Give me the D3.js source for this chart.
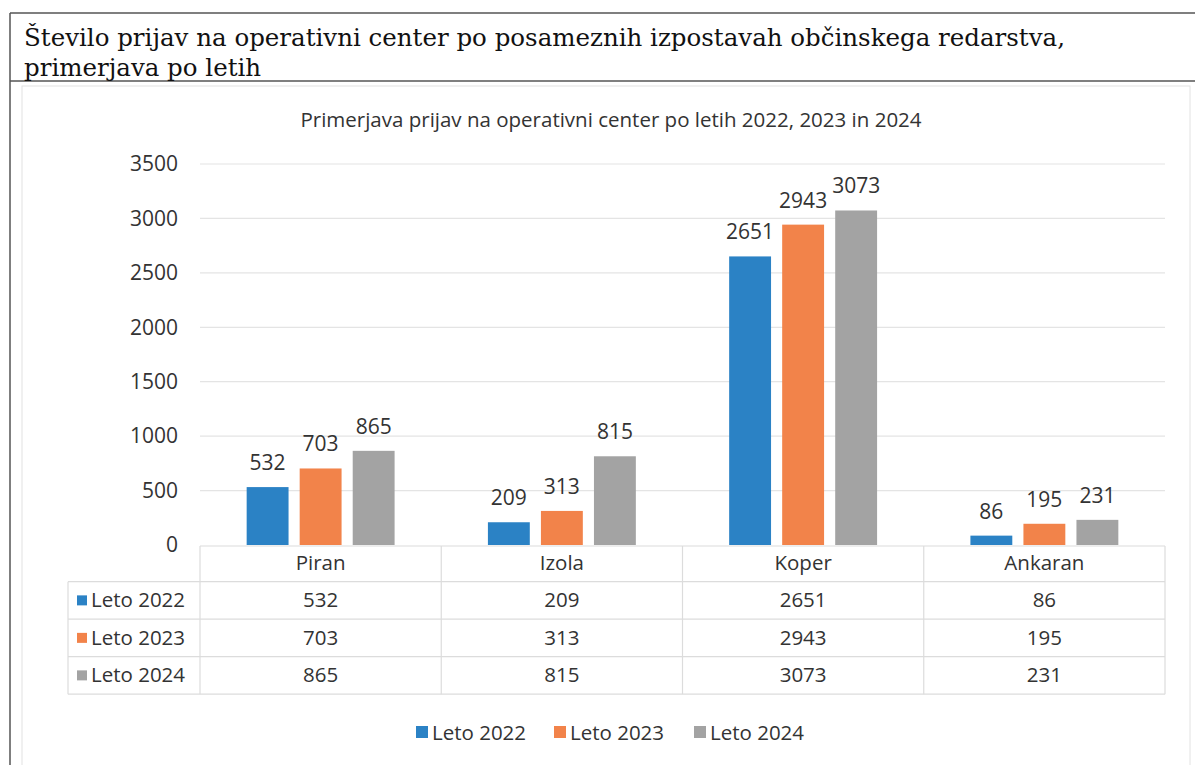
<!DOCTYPE html>
<html>
<head>
<meta charset="utf-8">
<script src="https://cdn.jsdelivr.net/npm/d3@7"></script>
<style>
  body { margin: 0; background: #fff; }
  text { font-family: "Open Sans", sans-serif; fill: #333; }
</style>
</head>
<body>
<svg id="chart" width="1195" height="765"></svg>
<script>
var categories = ["Piran", "Izola", "Koper", "Ankaran"];
var series = ["Leto 2022", "Leto 2023", "Leto 2024"];
var values2022 = [532, 209, 2651, 86];
var values2023 = [703, 313, 2943, 195];
var values2024 = [865, 815, 3073, 231];
var yTicks = [0, 500, 1000, 1500, 2000, 2500, 3000, 3500];
var colors = ["#2b82c5", "#f2834a", "#a3a3a3"];

var allValues = [values2022, values2023, values2024];
var svg = d3.select("#chart");

// outer page frame + heading
svg.append("line").attr("x1", 10).attr("x2", 1195).attr("y1", 13).attr("y2", 13)
    .attr("stroke", "#555").attr("stroke-width", 1.5);
svg.append("line").attr("x1", 10).attr("x2", 1195).attr("y1", 81).attr("y2", 81)
    .attr("stroke", "#555").attr("stroke-width", 1.5);
svg.append("line").attr("x1", 10).attr("x2", 10).attr("y1", 13).attr("y2", 765)
    .attr("stroke", "#555").attr("stroke-width", 1.5);

var heading = svg.append("text")
    .style("font-family", "'DejaVu Serif', serif")
    .style("font-size", "24.5px").style("fill", "#111");
heading.append("tspan").attr("x", 24).attr("y", 46)
    .text("Število prijav na operativni center po posameznih izpostavah občinskega redarstva,");
heading.append("tspan").attr("x", 24).attr("y", 76).text("primerjava po letih");

// chart area border
svg.append("rect").attr("x", 22).attr("y", 86).attr("width", 1168).attr("height", 690)
    .attr("fill", "none").attr("stroke", "#e2e2e2");

svg.append("text").attr("x", 611).attr("y", 127).attr("text-anchor", "middle")
    .style("font-size", "20.5px")
    .text("Primerjava prijav na operativni center po letih 2022, 2023 in 2024");

var left = 200, right = 1165;
var y = d3.scaleLinear().domain([0, 3500]).range([545, 164]);
var x0 = d3.scaleBand().domain(categories).range([left, right]);
var x1 = d3.scaleBand().domain(series).range([0, x0.bandwidth()])
    .paddingInner(0.21).paddingOuter(0.88);

// gridlines + y axis labels
var yAxis = d3.axisLeft(y).tickValues(yTicks).tickFormat(d3.format("d")).tickSize(0).tickPadding(22);
var gy = svg.append("g").attr("transform", "translate(" + left + ",0)").call(yAxis);
gy.select(".domain").remove();
gy.selectAll("text").style("font-size", "21px").style("font-family", "'Open Sans', sans-serif").attr("fill", "#333");

svg.append("g").selectAll("line").data(yTicks.filter(function (t) { return t > 0; }))
    .enter().append("line")
    .attr("x1", left).attr("x2", right)
    .attr("y1", function (d) { return y(d); }).attr("y2", function (d) { return y(d); })
    .attr("stroke", "#e4e4e4").attr("stroke-width", 1.2);

// bars
var groups = svg.append("g").selectAll("g").data(categories).enter().append("g")
    .attr("transform", function (d) { return "translate(" + x0(d) + ",0)"; });

groups.each(function (cat, ci) {
    var g = d3.select(this);
    series.forEach(function (s, si) {
        var v = allValues[si][ci];
        g.append("rect")
            .attr("x", x1(s)).attr("y", y(v))
            .attr("width", x1.bandwidth()).attr("height", y(0) - y(v))
            .attr("fill", colors[si]);
        g.append("text")
            .attr("x", x1(s) + x1.bandwidth() / 2).attr("y", y(v) - 17)
            .attr("text-anchor", "middle").style("font-size", "21px")
            .text(v);
    });
});

// data table
var tableTop = 546, rowH = 37.5, rowLeft = 68;
var rowY = function (i) { return tableTop + rowH * 0.95 + i * rowH; };
var tbl = svg.append("g").attr("stroke", "#dcdcdc").attr("stroke-width", 1.2);
tbl.append("line").attr("x1", left).attr("x2", right).attr("y1", tableTop).attr("y2", tableTop);
[0, 1, 2, 3].forEach(function (i) {
    tbl.append("line").attr("x1", rowLeft).attr("x2", right)
        .attr("y1", rowY(i)).attr("y2", rowY(i));
});
x0.domain().concat([null]).forEach(function (c) {
    var xx = c === null ? right : x0(c);
    tbl.append("line").attr("x1", xx).attr("x2", xx).attr("y1", tableTop).attr("y2", rowY(3));
});
tbl.append("line").attr("x1", rowLeft).attr("x2", rowLeft).attr("y1", rowY(0)).attr("y2", rowY(3));

svg.append("g").selectAll("text").data(categories).enter().append("text")
    .attr("x", function (d) { return x0(d) + x0.bandwidth() / 2; })
    .attr("y", tableTop + 24).attr("text-anchor", "middle")
    .style("font-size", "20.5px").text(function (d) { return d; });

series.forEach(function (s, si) {
    var cy = (rowY(si) + rowY(si + 1)) / 2;
    svg.append("rect").attr("x", 77).attr("y", cy - 5).attr("width", 10).attr("height", 10)
        .attr("fill", colors[si]);
    svg.append("text").attr("x", 91).attr("y", cy + 7).style("font-size", "20.5px").text(s);
    categories.forEach(function (c, ci) {
        svg.append("text")
            .attr("x", x0(c) + x0.bandwidth() / 2).attr("y", cy + 7)
            .attr("text-anchor", "middle").style("font-size", "20.5px")
            .text(allValues[si][ci]);
    });
});

// legend
var legendX = [416, 554, 694];
series.forEach(function (s, si) {
    svg.append("rect").attr("x", legendX[si]).attr("y", 726).attr("width", 12).attr("height", 12)
        .attr("fill", colors[si]);
    svg.append("text").attr("x", legendX[si] + 16).attr("y", 740)
        .style("font-size", "20.5px").text(s);
});
</script>
</body>
</html>
